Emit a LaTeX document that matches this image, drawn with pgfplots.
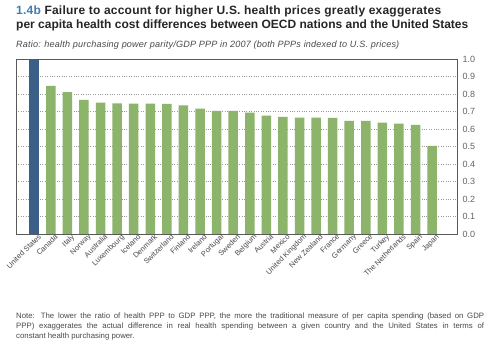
\documentclass[border=0pt]{standalone}
\usepackage{pgfplots}
\pgfplotsset{compat=1.18}
\usepackage{fontspec}
\setmainfont{Liberation Sans}
\definecolor{usblue}{HTML}{3B5F86}
\definecolor{bargreen}{HTML}{8CB46A}
\definecolor{titleblue}{HTML}{3E7DB5}
\definecolor{txtgray}{HTML}{4A4A4A}
\definecolor{framegray}{HTML}{5A5A5A}
\begin{document}
\begin{tikzpicture}[x=1pt,y=1pt]
\path[fill=white] (0,0) rectangle (488,352);
\node[anchor=west, inner sep=0pt, font=\bfseries\fontsize{12}{14}\selectfont\addfontfeature{LetterSpace=2}, color=black!85] at (16,341) {\textcolor{titleblue}{1.4b}\ Failure to account for higher U.S. health prices greatly exaggerates};
\node[anchor=west, inner sep=0pt, font=\bfseries\fontsize{12}{14}\selectfont, color=black!85] at (16,327) {per capita health cost differences between OECD nations and the United States};
\node[anchor=west, inner sep=0pt, font=\itshape\fontsize{9.1}{10}\selectfont\addfontfeature{LetterSpace=2}, color=txtgray] at (16,307) {Ratio: health purchasing power parity/GDP PPP in 2007 (both PPPs indexed to U.S. prices)};
\begin{axis}[at={(16pt,118pt)}, anchor=south west, scale only axis,
  width=441pt, height=175pt,
  ymin=0, ymax=1, xmin=-1.1, xmax=25.5,
  ytick={0,0.1,...,1.01},
  yticklabel pos=right,
  yticklabel style={/pgf/number format/fixed, /pgf/number format/fixed zerofill, /pgf/number format/precision=1, /pgf/number format/assume math mode=true, font=\fontsize{9}{10}\selectfont, color=txtgray!85, xshift=2pt},
  major tick length=0pt,
  ymajorgrids, grid style={dotted, line width=0.5pt, black!40},
  axis line style={framegray, line width=0.8pt},
  xtick={0,...,24},
  xticklabels={United States,Canada,Italy,Norway,Australia,Luxembourg,Iceland,Denmark,Switzerland,Finland,Ireland,Portugal,Sweden,Belgium,Austria,Mexico,United Kingdom,New Zealand,France,Germany,Greece,Turkey,The Netherlands,Spain,Japan},
  xticklabel style={rotate=45, anchor=north east, font=\fontsize{7.5}{9}\selectfont, color=txtgray, inner sep=1pt, xshift=4pt, yshift=-1pt},
  ybar, bar width=9.5pt, bar shift=0pt,
]
\addplot[fill=usblue, draw=none] coordinates {(0,1.0)};
\addplot[fill=bargreen, draw=none] coordinates {
(1,0.846) (2,0.810) (3,0.767) (4,0.750) (5,0.747) (6,0.745) (7,0.745) (8,0.743) (9,0.735) (10,0.716) (11,0.703) (12,0.703) (13,0.694) (14,0.676) (15,0.669) (16,0.665) (17,0.665) (18,0.663) (19,0.646) (20,0.646) (21,0.636) (22,0.630) (23,0.623) (24,0.503)};
\end{axis}
\node[anchor=north west, inner sep=0pt, text width=468pt, align=justify, font=\fontsize{7.8}{9.6}\selectfont, color=txtgray] at (16,39) {Note: The lower the ratio of health PPP to GDP PPP, the more the traditional measure of per capita spending (based on GDP\linebreak PPP) exaggerates the actual difference in real health spending between a given country and the United States in terms of\linebreak constant health purchasing power.};
\end{tikzpicture}
\end{document}
